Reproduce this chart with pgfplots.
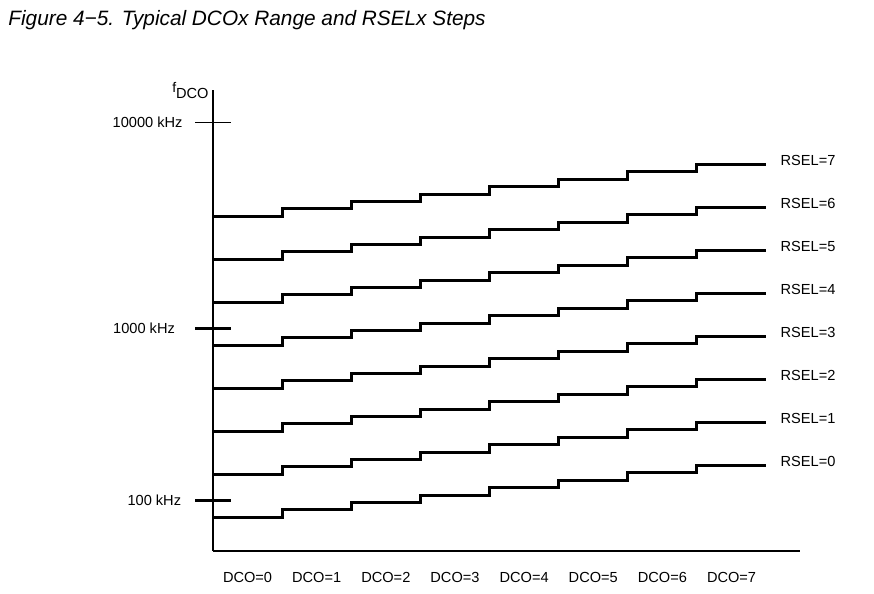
\documentclass[border=0pt]{standalone}
\usepackage{fontspec}
\setmainfont{Liberation Sans}
\usepackage{pgfplots}
\pgfplotsset{compat=1.18}
\begin{document}
\begin{tikzpicture}
% 1 px of the reference = 0.5pt
\path[use as bounding box] (0,0) rectangle (437pt,-297pt);
\node[anchor=west, inner sep=0, font=\fontsize{10.4}{12}\selectfont\itshape]
  at (4pt,-10pt) {Figure 4−5. Typical DCOx Range and RSELx Steps};
\begin{axis}[
    at={(106.5pt,-275.5pt)}, anchor=south west,
    scale only axis, width=293.5pt, height=230.5pt,
    xmin=0, xmax=8.49, ymin=-551, ymax=-90,
    axis x line*=bottom, axis y line*=left,
    axis line style={line width=0.6pt, black},
    clip=false,
    font=\fontsize{7.3}{9}\selectfont,
    tick label style={font=\fontsize{7.3}{9}\selectfont},
    xtick={0.5,1.5,2.5,3.5,4.5,5.5,6.5,7.5},
    xticklabels={DCO=0,DCO=1,DCO=2,DCO=3,DCO=4,DCO=5,DCO=6,DCO=7},
    x tick style={draw=none},
    xticklabel style={anchor=north, inner sep=0, yshift=-1.5pt},
    tick align=center, major tick length=17.5pt,
    tick style={black, line width=0.5pt},
    ytick={-122.3}, yticklabels={10000 kHz},
    yticklabel style={anchor=east, inner sep=0, xshift=-6.3pt},
    extra y ticks={-328.7,-500.3},
    extra y tick labels={1000 kHz\rule{3.8pt}{0pt},100 kHz\rule{0.7pt}{0pt}},
    extra y tick style={tick style={line width=1.5pt}},
]
% RSEL=0 ... RSEL=7, one level per DCO step
\addplot[const plot, black, line width=1.5pt] coordinates {(0,-517.3)(1,-509.9)(2,-502.4)(3,-495.0)(4,-487.6)(5,-480.1)(6,-472.7)(7,-465.3)(8,-465.3)};
\addplot[const plot, black, line width=1.5pt] coordinates {(0,-474.3)(1,-466.9)(2,-459.4)(3,-452.0)(4,-444.6)(5,-437.1)(6,-429.7)(7,-422.3)(8,-422.3)};
\addplot[const plot, black, line width=1.5pt] coordinates {(0,-431.3)(1,-423.9)(2,-416.4)(3,-409.0)(4,-401.6)(5,-394.1)(6,-386.7)(7,-379.3)(8,-379.3)};
\addplot[const plot, black, line width=1.5pt] coordinates {(0,-388.3)(1,-380.9)(2,-373.4)(3,-366.0)(4,-358.6)(5,-351.1)(6,-343.7)(7,-336.3)(8,-336.3)};
\addplot[const plot, black, line width=1.5pt] coordinates {(0,-345.3)(1,-337.9)(2,-330.4)(3,-323.0)(4,-315.6)(5,-308.1)(6,-300.7)(7,-293.3)(8,-293.3)};
\addplot[const plot, black, line width=1.5pt] coordinates {(0,-302.3)(1,-294.9)(2,-287.4)(3,-280.0)(4,-272.6)(5,-265.1)(6,-257.7)(7,-250.3)(8,-250.3)};
\addplot[const plot, black, line width=1.5pt] coordinates {(0,-259.3)(1,-251.9)(2,-244.4)(3,-237.0)(4,-229.6)(5,-222.1)(6,-214.7)(7,-207.3)(8,-207.3)};
\addplot[const plot, black, line width=1.5pt] coordinates {(0,-216.3)(1,-208.9)(2,-201.4)(3,-194.0)(4,-186.6)(5,-179.1)(6,-171.7)(7,-164.3)(8,-164.3)};
\node[anchor=west, inner sep=0] at (axis cs:8.205,-461.3) {RSEL=0};
\node[anchor=west, inner sep=0] at (axis cs:8.205,-418.3) {RSEL=1};
\node[anchor=west, inner sep=0] at (axis cs:8.205,-375.3) {RSEL=2};
\node[anchor=west, inner sep=0] at (axis cs:8.205,-332.3) {RSEL=3};
\node[anchor=west, inner sep=0] at (axis cs:8.205,-289.3) {RSEL=4};
\node[anchor=west, inner sep=0] at (axis cs:8.205,-246.3) {RSEL=5};
\node[anchor=west, inner sep=0] at (axis cs:8.205,-203.3) {RSEL=6};
\node[anchor=west, inner sep=0] at (axis cs:8.205,-160.3) {RSEL=7};
\node[anchor=base east, inner sep=0] at (axis cs:0,-98)
  {\raisebox{2.8pt}{\fontsize{7}{8}\selectfont f}DCO\rule{2pt}{0pt}};
\end{axis}
\end{tikzpicture}
\end{document}
